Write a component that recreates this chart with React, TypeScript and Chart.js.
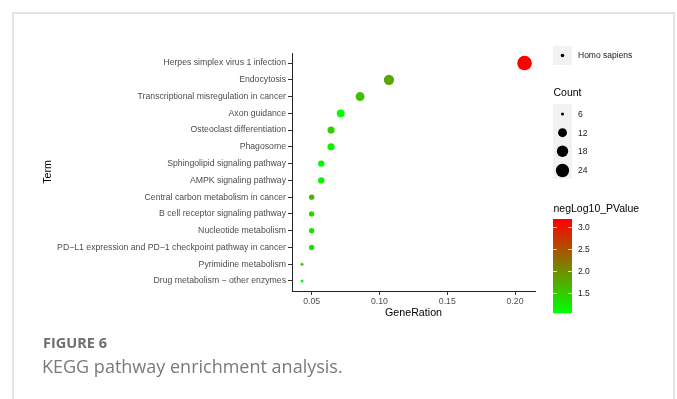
import React, { useEffect, useRef } from "react";
import { Chart, registerables } from "chart.js";

Chart.register(...registerables);

const terms = [
  "Herpes simplex virus 1 infection",
  "Endocytosis",
  "Transcriptional misregulation in cancer",
  "Axon guidance",
  "Osteoclast differentiation",
  "Phagosome",
  "Sphingolipid signaling pathway",
  "AMPK signaling pathway",
  "Central carbon metabolism in cancer",
  "B cell receptor signaling pathway",
  "Nucleotide metabolism",
  "PD\u2212L1 expression and PD\u22121 checkpoint pathway in cancer",
  "Pyrimidine metabolism",
  "Drug metabolism \u2212 other enzymes",
];
const geneRatio = [0.207, 0.107, 0.0857, 0.0714, 0.0643, 0.0643, 0.0571, 0.0571, 0.05, 0.05, 0.05, 0.05, 0.0429, 0.0429];
const counts = [29, 15, 12, 10, 9, 9, 8, 8, 7, 7, 7, 7, 6, 6];
const negLog10P = [3.19, 1.78, 1.58, 1.04, 1.45, 1.17, 1.08, 1.15, 1.7, 1.4, 1.32, 1.27, 1.42, 1.12];
const xTicks = [0.05, 0.1, 0.15, 0.2];
const countBreaks = [6, 12, 18, 24];
const pBreaks = [1.5, 2.0, 2.5, 3.0];

const LOW = [0, 255, 0];
const HIGH = [255, 0, 0];
const pMin = Math.min(...negLog10P);
const pMax = Math.max(...negLog10P);
const cMin = Math.min(...counts);
const cMax = Math.max(...counts);
const R_MIN = 1.5;
const R_MAX = 7.3;

function colorFor(v: number): string {
  const t = Math.max(0, Math.min(1, (v - pMin) / (pMax - pMin)));
  const c = LOW.map((l, i) => Math.round(l + (HIGH[i] - l) * t));
  return `rgb(${c[0]},${c[1]},${c[2]})`;
}
function radiusFor(c: number): number {
  const t = Math.max(0, (c - cMin) / (cMax - cMin));
  return R_MIN + (R_MAX - R_MIN) * Math.sqrt(t);
}

const FONT = "'Liberation Sans', Arial, Helvetica, sans-serif";

const legendPlugin = {
  id: "ggLegend",
  afterDraw(chart: any) {
    const ctx = chart.ctx as CanvasRenderingContext2D;
    ctx.save();
    const kx = 553;
    const kw = 19;
    const tx = 578;
    // species key
    ctx.fillStyle = "#f2f2f2";
    ctx.fillRect(kx, 46, kw, 19);
    ctx.fillStyle = "#000";
    ctx.beginPath();
    ctx.arc(kx + kw / 2, 55.5, 1.8, 0, Math.PI * 2);
    ctx.fill();
    ctx.font = `8.5px ${FONT}`;
    ctx.textBaseline = "middle";
    ctx.textAlign = "left";
    ctx.fillStyle = "#1a1a1a";
    ctx.fillText("Homo sapiens", tx, 55.5);

    // Count legend
    ctx.font = `10.5px ${FONT}`;
    ctx.fillStyle = "#000";
    ctx.fillText("Count", 553.5, 93.5);
    ctx.fillStyle = "#f2f2f2";
    ctx.fillRect(kx, 104, kw, 75);
    const rowY = [114, 132.7, 151.3, 170.5];
    countBreaks.forEach((b, i) => {
      ctx.fillStyle = "#000";
      ctx.beginPath();
      ctx.arc(kx + kw / 2, rowY[i], radiusFor(b), 0, Math.PI * 2);
      ctx.fill();
      ctx.font = `8.5px ${FONT}`;
      ctx.fillStyle = "#1a1a1a";
      ctx.fillText(String(b), tx, rowY[i] + 0.5);
    });

    // colour bar
    ctx.font = `10.5px ${FONT}`;
    ctx.fillStyle = "#000";
    ctx.fillText("negLog10_PValue", 553.5, 209.5);
    const barTop = 219;
    const barBot = 312.7;
    const steps = 94;
    for (let i = 0; i < steps; i++) {
      const y0 = barTop + ((barBot - barTop) * i) / steps;
      const v = pMax - ((pMax - pMin) * (i + 0.5)) / steps;
      ctx.fillStyle = colorFor(v);
      ctx.fillRect(kx, y0, kw, (barBot - barTop) / steps + 0.6);
    }
    const yFor = (v: number) => barTop + ((pMax - v) / (pMax - pMin)) * (barBot - barTop);
    pBreaks.forEach((b) => {
      const y = Math.round(yFor(b)) + 0.5;
      ctx.strokeStyle = "rgba(255,255,255,0.75)";
      ctx.lineWidth = 1;
      ctx.beginPath();
      ctx.moveTo(kx, y);
      ctx.lineTo(kx + 4, y);
      ctx.moveTo(kx + kw - 4, y);
      ctx.lineTo(kx + kw, y);
      ctx.stroke();
      ctx.font = `8.5px ${FONT}`;
      ctx.fillStyle = "#1a1a1a";
      ctx.fillText(b.toFixed(1), tx, y);
    });
    ctx.restore();
  },
};

export default function App() {
  const ref = useRef<HTMLCanvasElement | null>(null);
  useEffect(() => {
    if (!ref.current) return;
    const PAD_LEFT = 38;
    const PAD_BOTTOM = 76;
    const chart = new Chart(ref.current, {
      type: "scatter",
      data: {
        datasets: [
          {
            data: terms.map((_, i) => ({ x: geneRatio[i], y: i })),
            pointRadius: counts.map((c) => radiusFor(c)),
            pointHoverRadius: counts.map((c) => radiusFor(c)),
            pointBackgroundColor: negLog10P.map((v) => colorFor(v)),
            pointBorderWidth: 0,
            pointBorderColor: "rgba(0,0,0,0)",
          },
        ],
      },
      options: {
        animation: false,
        responsive: false,
        devicePixelRatio: 1,
        events: [],
        layout: { padding: { left: PAD_LEFT, top: 53, right: 142, bottom: PAD_BOTTOM } },
        plugins: { legend: { display: false }, tooltip: { enabled: false } },
        scales: {
          x: {
            type: "linear",
            min: 0.0355,
            max: 0.2147,
            afterBuildTicks: (s: any) => {
              s.ticks = xTicks.map((v) => ({ value: v }));
            },
            afterFit: (s: any) => {
              s.height = 399 - PAD_BOTTOM - 291;
            },
            ticks: {
              callback: (v: any) => Number(v).toFixed(2),
              font: { family: FONT, size: 8.7 },
              color: "#4d4d4d",
              padding: 1,
              maxRotation: 0,
              autoSkip: false,
            },
            grid: { drawOnChartArea: false, drawTicks: true, tickLength: 4, tickColor: "#333", lineWidth: 1 },
            border: { display: true, color: "#222", width: 1 },
            title: {
              display: true,
              text: "GeneRation",
              font: { family: FONT, size: 10.7 },
              color: "#000",
              padding: { top: 2, bottom: 4 },
            },
          },
          y: {
            type: "linear",
            reverse: true,
            min: -0.6,
            max: terms.length - 1 + 0.6,
            afterBuildTicks: (s: any) => {
              s.ticks = terms.map((_, i) => ({ value: i }));
            },
            afterFit: (s: any) => {
              s.width = 292 - PAD_LEFT;
            },
            ticks: {
              callback: (v: any) => terms[Number(v)] ?? "",
              font: { family: FONT, size: 8.7 },
              color: "#4d4d4d",
              padding: 2,
              autoSkip: false,
            },
            grid: { drawOnChartArea: false, drawTicks: true, tickLength: 4, tickColor: "#333", lineWidth: 1 },
            border: { display: true, color: "#222", width: 1 },
            title: {
              display: true,
              text: "Term",
              font: { family: FONT, size: 10.7 },
              color: "#000",
              padding: { top: 4, bottom: 4 },
            },
          },
        },
      },
      plugins: [legendPlugin],
    } as any);
    return () => chart.destroy();
  }, []);

  return (
    <div style={{ position: "fixed", left: 0, top: 0, width: 677, height: 399, background: "#fff", overflow: "hidden" }}>
      <div
        style={{
          position: "absolute",
          left: 12,
          top: 12,
          width: 663,
          height: 420,
          border: "2px solid #e4e4e4",
          boxSizing: "border-box",
        }}
      />
      <canvas ref={ref} width={677} height={399} style={{ position: "absolute", left: 0, top: 0, width: 677, height: 399 }} />
      <div
        style={{
          position: "absolute",
          left: 43,
          top: 333,
          lineHeight: "20px",
          fontFamily: "'Open Sans', sans-serif",
          fontWeight: 700,
          fontSize: 14.5,
          color: "#6e6e6e",
          whiteSpace: "nowrap",
        }}
      >
        FIGURE 6
      </div>
      <div
        style={{
          position: "absolute",
          left: 42,
          top: 354,
          lineHeight: "24px",
          fontFamily: "'Open Sans', sans-serif",
          fontWeight: 400,
          fontSize: 18,
          color: "#7a7a7a",
          whiteSpace: "nowrap",
        }}
      >
        KEGG pathway enrichment analysis.
      </div>
    </div>
  );
}
